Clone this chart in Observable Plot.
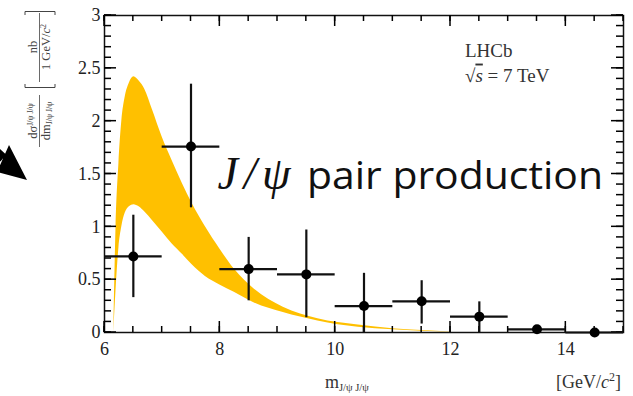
<!DOCTYPE html>
<html><head><meta charset="utf-8">
<script src="https://cdn.jsdelivr.net/npm/d3@7"></script>
<script src="https://cdn.jsdelivr.net/npm/@observablehq/plot@0.6"></script>
<style>
html,body{margin:0;padding:0;background:#fff;}
#chart{position:relative;width:633px;height:396px;overflow:hidden;}
</style></head><body><div id="chart"></div>
<script>
// ---- data ----
const binCenter = [6.5, 7.5, 8.5, 9.5, 10.5, 11.5, 12.5, 13.5, 14.5];
const binHalfWidth = [0.5, 0.5, 0.5, 0.5, 0.5, 0.5, 0.5, 0.5, 0.5];
const xsec     = [0.72, 1.76, 0.60, 0.55, 0.25, 0.295, 0.15, 0.03, 0.0];
const errDown  = [0.39, 0.58, 0.30, 0.41, 0.25, 0.215, 0.15, 0.02, 0.0];
const errUp    = [0.39, 0.59, 0.30, 0.42, 0.31, 0.195, 0.14, 0.02, 0.01];

const bandMass = [6.16, 6.20, 6.25, 6.30, 6.36, 6.43, 6.51, 6.60, 6.70, 6.83, 7.0, 7.17, 7.35, 7.52, 7.75, 8.0, 8.25, 8.6, 9.1, 9.7, 10.4, 11.0, 11.5, 12.0];
const bandHigh = [0, 1.0, 1.6, 2.0, 2.23, 2.36, 2.42, 2.38, 2.30, 2.11, 1.85, 1.63, 1.41, 1.22, 1.0, 0.79, 0.60, 0.41, 0.24, 0.13, 0.07, 0.035, 0.018, 0.005];
const bandLow  = [0, 0.40, 0.80, 1.00, 1.13, 1.19, 1.21, 1.19, 1.14, 1.06, 0.95, 0.84, 0.74, 0.64, 0.53, 0.45, 0.38, 0.28, 0.19, 0.11, 0.05, 0.025, 0.012, 0.003];

const xTicks = [6, 8, 10, 12, 14];
const xTickLabels = ["6", "8", "10", "12", "14"];
const yTicks = [0, 0.5, 1, 1.5, 2, 2.5, 3];
const yTickLabels = ["0", "0.5", "1", "1.5", "2", "2.5", "3"];
const xMinorTicks = d3.range(6, 15.001, 0.5);
const yMinorTicks = d3.range(0, 3.0001, 0.1);

// ---- layout ----
const W = 633, H = 396, ML = 104, MR = 10, MT = 15, MB = 64;
const xDom = [6, 15], yDom = [0, 3];
const GOLD = "#FFC000";
const TICK = "#000";

const points = binCenter.map((x, i) => ({x, y: xsec[i], lo: xsec[i] - errDown[i], hi: xsec[i] + errUp[i], x1: x - binHalfWidth[i], x2: x + binHalfWidth[i]}));
const band = bandMass.map((x, i) => ({x, lo: bandLow[i], hi: bandHigh[i]}));

const plot = Plot.plot({
  width: W, height: H,
  marginLeft: ML, marginRight: MR, marginTop: MT, marginBottom: MB,
  x: {domain: xDom},
  y: {domain: yDom},
  style: {fontFamily: "Liberation Serif", color: "#222", background: "white"},
  marks: [
    Plot.areaY(band, {x: "x", y1: "lo", y2: "hi", fill: GOLD, curve: "monotone-x"}),
    Plot.frame({stroke: "#111", strokeWidth: 1.5}),
    Plot.ruleX(points, {x: "x", y1: d => Math.max(0, d.lo), y2: "hi", stroke: "#111", strokeWidth: 2.2}),
    Plot.ruleY(points, {y: "y", x1: "x1", x2: "x2", stroke: "#111", strokeWidth: 2.2}),
    Plot.dot(points, {x: "x", y: "y", r: 5, fill: "#000", stroke: "none"}),
    Plot.axisX(xTicks, {tickSize: 0, tickPadding: 10, fontSize: 18, label: null, tickFormat: d => xTickLabels[xTicks.indexOf(d)]}),
    Plot.axisY(yTicks, {tickSize: 0, tickPadding: 4, fontSize: 18, label: null, tickFormat: d => yTickLabels[yTicks.indexOf(d)]})
  ]
});
document.getElementById("chart").appendChild(plot);

// ---- scales from the plot ----
const sx = plot.scale("x"), sy = plot.scale("y");
const svg = d3.select(plot);
const fx0 = sx.apply(xDom[0]), fx1 = sx.apply(xDom[1]);
const fy0 = sy.apply(yDom[0]), fy1 = sy.apply(yDom[1]);

// inward ticks on all four sides
const tickG = svg.append("g").attr("stroke", TICK).attr("stroke-width", 1.5);
function tickLines(vals, len, horiz) {
  for (const v of vals) {
    if (horiz) {
      const y = sy.apply(v);
      tickG.append("line").attr("x1", fx0).attr("x2", fx0 + len).attr("y1", y).attr("y2", y);
      tickG.append("line").attr("x1", fx1).attr("x2", fx1 - len).attr("y1", y).attr("y2", y);
    } else {
      const x = sx.apply(v);
      tickG.append("line").attr("x1", x).attr("x2", x).attr("y1", fy0).attr("y2", fy0 - len);
      tickG.append("line").attr("x1", x).attr("x2", x).attr("y1", fy1).attr("y2", fy1 + len);
    }
  }
}
tickLines(xMinorTicks, 6, false);
tickLines(xTicks, 11, false);
tickLines(yMinorTicks, 7, true);
tickLines(yTicks, 12, true);
svg.selectAll("g[aria-label=rule], g[aria-label=dot]").raise();

// ---- annotations ----
const ann = svg.append("g");
function richText(parent, x, y, segs, opts = {}) {
  const t = parent.append("text").attr("x", x).attr("y", y)
    .attr("font-family", opts.family || "Liberation Serif")
    .attr("font-size", opts.size || 12)
    .attr("fill", opts.fill || "#333")
    .attr("text-anchor", opts.anchor || "start");
  let cur = 0;
  for (const s of segs) {
    const ts = t.append("tspan").text(s.t);
    const shift = s.shift || 0;
    if (shift !== cur) { ts.attr("dy", shift - cur); cur = shift; }
    if (s.size) ts.attr("font-size", s.size);
    if (s.italic) ts.attr("font-style", "italic");
    if (s.style) ts.attr("style", s.style);
  }
  if (opts.textLength) t.attr("textLength", opts.textLength).attr("lengthAdjust", opts.lengthAdjust || "spacing");
  return t;
}

// big label
const bigLabel = {x: 7.97, y: 1.35, x2: 9.52};
richText(ann, sx.apply(bigLabel.x), sy.apply(bigLabel.y), [{t: "J/ψ", italic: true}],
  {family: "Liberation Serif", size: 46, fill: "#111", textLength: 73});
richText(ann, sx.apply(bigLabel.x2), sy.apply(bigLabel.y), [{t: "pair production"}],
  {family: "Open Sans", size: 38, fill: "#111", textLength: 296, lengthAdjust: "spacingAndGlyphs"});

// LHCb label
const lhcbPos = {x: 12.26, y1: 2.60, y2: 2.37};
richText(ann, sx.apply(lhcbPos.x), sy.apply(lhcbPos.y1), [{t: "LHCb"}], {size: 19, fill: "#333"});
richText(ann, sx.apply(lhcbPos.x), sy.apply(lhcbPos.y2),
  [{t: "√"}, {t: "s", italic: true, style: "text-decoration: overline"}, {t: " = 7 TeV"}],
  {size: 19, fill: "#333"});

// x-axis label
richText(ann, fx0 + 221, fy0 + 56, [{t: "m", size: 18}, {t: "J/ψ J/ψ", size: 10.5, shift: 3}], {size: 18, fill: "#333"});
richText(ann, fx0 + 452, fy0 + 56, [{t: "[GeV/"}, {t: "c", italic: true}, {t: "2", size: 12, shift: -7}, {t: "]", shift: 0}],
  {size: 18, fill: "#333"});

// y-axis label (rotated)
const yl = ann.append("g").attr("transform", "rotate(-90)");
const ycol = "#444";
richText(yl, -121, 36.5, [{t: "dσ"}, {t: "J/ψ J/ψ", size: 8, shift: -4}], {size: 12.5, fill: ycol, anchor: "middle"});
richText(yl, -121, 49.5, [{t: "dm"}, {t: "J/ψ J/ψ", size: 8, shift: 2.5}], {size: 12.5, fill: ycol, anchor: "middle"});
yl.append("line").attr("x1", -147).attr("x2", -95).attr("y1", 39.5).attr("y2", 39.5).attr("stroke", ycol).attr("stroke-width", 0.8);
richText(yl, -47, 36.5, [{t: "nb"}], {size: 12.5, fill: ycol, anchor: "middle"});
richText(yl, -47, 50, [{t: "1 GeV/"}, {t: "c", italic: true}, {t: "2", size: 8, shift: -4}], {size: 12.5, fill: ycol, anchor: "middle"});
yl.append("line").attr("x1", -82).attr("x2", -13).attr("y1", 39.5).attr("y2", 39.5).attr("stroke", ycol).attr("stroke-width", 0.8);
ann.append("path").attr("d", "M25,84 L25,87.5 L55,87.5 L55,84 M25,15 L25,11.5 L55,11.5 L55,15")
  .attr("fill", "none").attr("stroke", ycol).attr("stroke-width", 1);

// decorative arrow at the left edge
ann.append("path")
  .attr("d", "M9,145 L27,180 L-3,172 Z M-22,141 L-16,134 L6,154.5 L0.5,161.5 Z")
  .attr("fill", "#000");
</script>
</body></html>
